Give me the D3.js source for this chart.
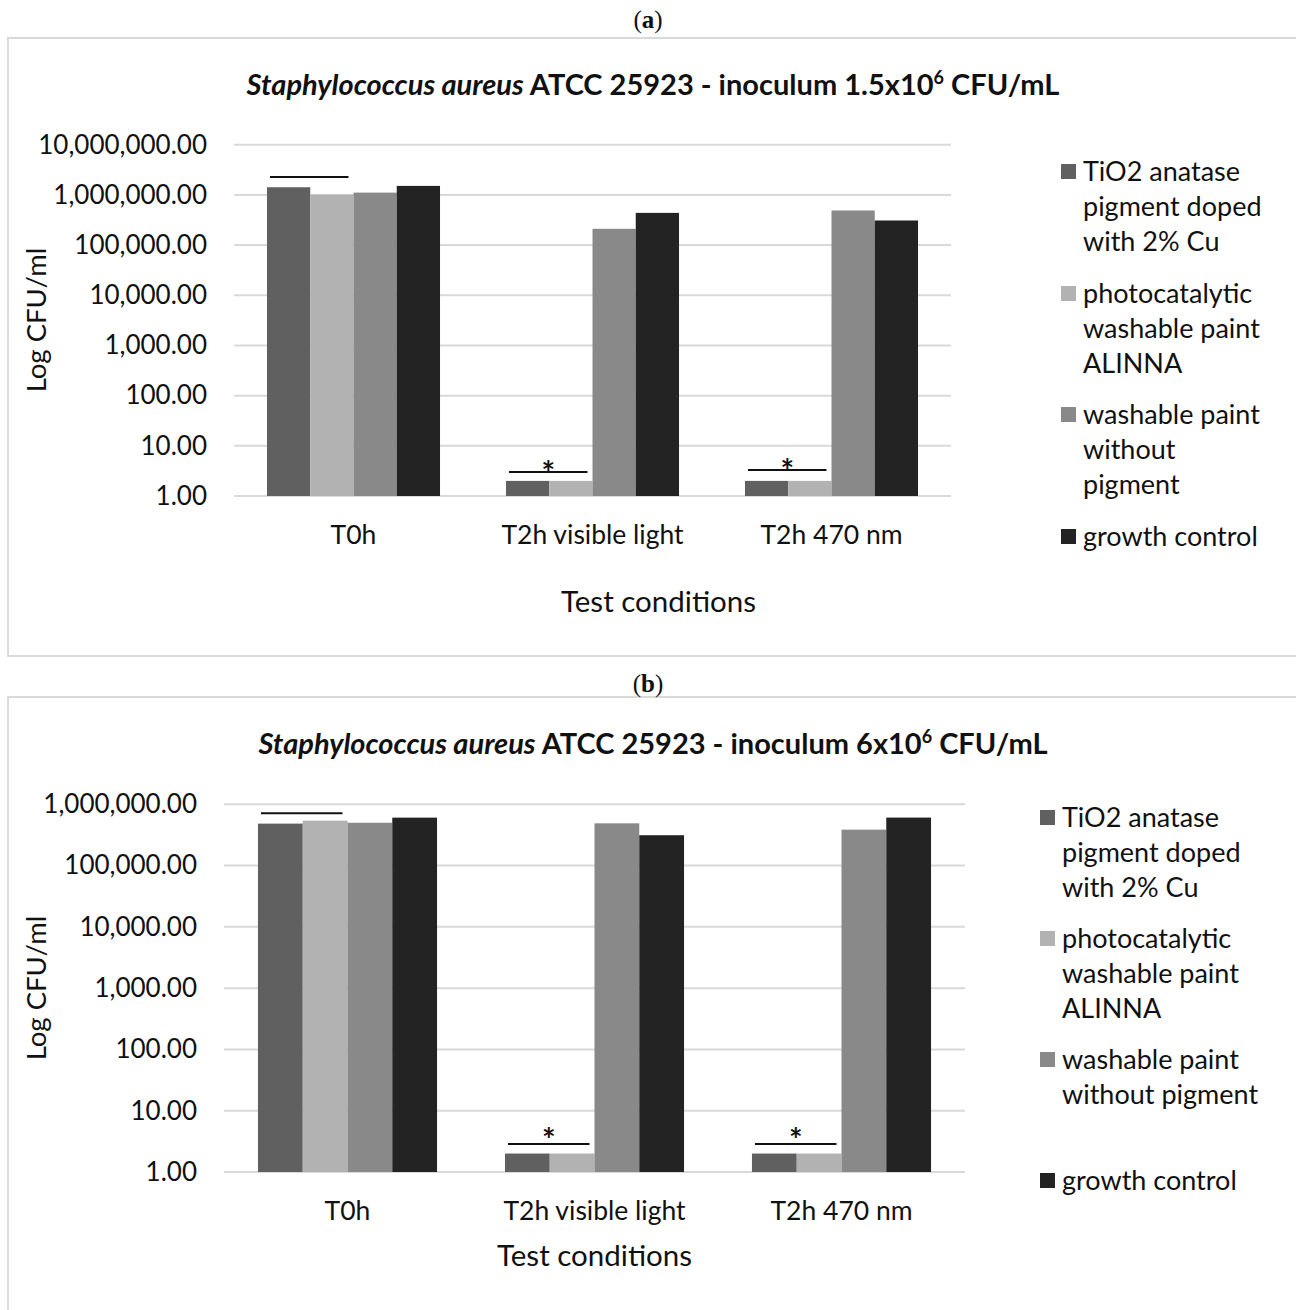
<!DOCTYPE html>
<html>
<head>
<meta charset="utf-8">
<script src="https://cdn.jsdelivr.net/npm/d3@7"></script>
<style>
  html, body { margin: 0; padding: 0; background: #fff; }
  svg { display: block; }
  text { font-family: Lato, "Open Sans", sans-serif; fill: #111; }
</style>
</head>
<body>
<svg id="chart" width="1296" height="1310"></svg>
<script>
// Test conditions (x categories), shared by both panels
const categories = ["T0h", "T2h visible light", "T2h 470 nm"];
const seriesNames = [
  "TiO2 anatase pigment doped with 2% Cu",
  "photocatalytic washable paint ALINNA",
  "washable paint without pigment",
  "growth control"
];
const seriesColors = ["#606060", "#b2b2b2", "#898989", "#232323"];

// Panel (a): inoculum 1.5x10^6 CFU/mL
const a_tio2Cu    = [1420000, 2, 2];
const a_alinna    = [1010000, 2, 2];
const a_washable  = [1110000, 211000, 489000];
const a_growth    = [1510000, 438000, 309000];
const a_yTicks    = [1, 10, 100, 1000, 10000, 100000, 1000000, 10000000];
const a_sigBars   = [ { cat: "T0h", value: 2280000, star: false },
                      { cat: "T2h visible light", value: 3.0, star: true },
                      { cat: "T2h 470 nm", value: 3.3, star: true } ];
const a_legendLines = [
  ["TiO2 anatase", "pigment doped", "with 2% Cu"],
  ["photocatalytic", "washable paint", "ALINNA"],
  ["washable paint", "without", "pigment"],
  ["growth control"]
];

// Panel (b): inoculum 6x10^6 CFU/mL
const b_tio2Cu    = [484000, 2, 2];
const b_alinna    = [541000, 2, 2];
const b_washable  = [500000, 489000, 386000];
const b_growth    = [606000, 313000, 607000];
const b_yTicks    = [1, 10, 100, 1000, 10000, 100000, 1000000];
const b_sigBars   = [ { cat: "T0h", value: 713000, star: false },
                      { cat: "T2h visible light", value: 2.86, star: true },
                      { cat: "T2h 470 nm", value: 2.86, star: true } ];
const b_legendLines = [
  ["TiO2 anatase", "pigment doped", "with 2% Cu"],
  ["photocatalytic", "washable paint", "ALINNA"],
  ["washable paint", "without pigment"],
  ["growth control"]
];

const svg = d3.select("#chart");
const fmt = d3.format(",.2f");

function drawPanel(p) {
  const g = svg.append("g");

  // frame around the chart area
  g.append("rect")
    .attr("x", p.frame[0]).attr("y", p.frame[1])
    .attr("width", p.frame[2]).attr("height", p.frame[3])
    .attr("fill", "none").attr("stroke", "#d9d9d9").attr("stroke-width", 2);

  // panel letter above the frame
  const letter = g.append("text")
    .attr("x", 648).attr("y", p.letterY)
    .attr("text-anchor", "middle")
    .style("font-family", "'Liberation Serif', serif")
    .style("font-size", "25px");
  letter.append("tspan").text("(");
  letter.append("tspan").style("font-weight", "bold").text(p.letter);
  letter.append("tspan").text(")");

  // chart title
  const title = g.append("text")
    .attr("x", p.titleX).attr("y", p.titleY)
    .attr("text-anchor", "middle")
    .style("font-size", "29px").style("font-weight", "bold");
  title.append("tspan").style("font-style", "italic").text("Staphylococcus aureus");
  title.append("tspan").text(" ATCC 25923 - inoculum " + p.inoculum + "x10");
  title.append("tspan").attr("dy", -11).style("font-size", "18px").text("6");
  title.append("tspan").attr("dy", 11).text(" CFU/mL");

  const x = d3.scaleBand().domain(categories).range(p.xRange)
    .paddingInner(p.pad).paddingOuter(p.pad / 2);
  const xs = d3.scaleBand().domain(d3.range(seriesNames.length)).range([0, x.bandwidth()]);
  const y = d3.scaleLog().domain([p.yTicks[0], p.yTicks[p.yTicks.length - 1]]).range(p.yRange);

  // gridlines
  g.append("g").selectAll("line").data(p.yTicks).join("line")
    .attr("x1", p.xRange[0]).attr("x2", p.xRange[1])
    .attr("y1", d => y(d)).attr("y2", d => y(d))
    .attr("stroke", "#d9d9d9").attr("stroke-width", 2);

  // y axis labels
  const yAxis = g.append("g")
    .attr("transform", `translate(${p.tickRight},0)`)
    .call(d3.axisLeft(y).tickValues(p.yTicks).tickFormat(fmt).tickSize(0).tickPadding(0));
  yAxis.select(".domain").remove();
  yAxis.selectAll("text")
    .style("font-family", "Lato, sans-serif").style("font-size", "26px").attr("fill", "#111");

  // bars
  const series = p.values.map((vals, si) => vals.map((v, ci) => ({ si, cat: categories[ci], v })));
  g.append("g").selectAll("g").data(series).join("g")
    .attr("fill", (d, i) => seriesColors[i])
    .selectAll("rect").data(d => d).join("rect")
    .attr("x", d => x(d.cat) + xs(d.si))
    .attr("width", xs.bandwidth())
    .attr("y", d => y(d.v))
    .attr("height", d => y(p.yTicks[0]) - y(d.v));

  // significance bars over the first two series
  p.sig.forEach(s => {
    const x1 = x(s.cat) + xs(0) + 3;
    const x2 = x(s.cat) + xs(1) + xs.bandwidth() - 5;
    g.append("line")
      .attr("x1", x1).attr("x2", x2).attr("y1", y(s.value)).attr("y2", y(s.value))
      .attr("stroke", "#111").attr("stroke-width", 2);
    if (s.star) {
      g.append("text")
        .attr("x", (x1 + x2) / 2).attr("y", y(s.value) + p.starDy)
        .attr("text-anchor", "middle")
        .style("font-size", "32px").style("font-weight", "bold")
        .text("*");
    }
  });

  // category labels
  g.append("g").selectAll("text").data(categories).join("text")
    .attr("x", d => x(d) + x.bandwidth() / 2)
    .attr("y", p.catY)
    .attr("text-anchor", "middle")
    .style("font-size", "26.5px")
    .text(d => d);

  // axis titles
  g.append("text")
    .attr("x", (p.xRange[0] + p.xRange[1]) / 2 + p.xTitleDx).attr("y", p.xTitleY)
    .attr("text-anchor", "middle").style("font-size", "29.5px")
    .text("Test conditions");
  g.append("text")
    .attr("transform", `translate(${p.yTitleX},${p.yTitleY}) rotate(-90)`)
    .attr("text-anchor", "middle").style("font-size", "27.5px")
    .text("Log CFU/ml");

  // legend
  const lg = g.append("g");
  p.legendLines.forEach((lines, i) => {
    const top = p.legendY[i];
    lg.append("rect")
      .attr("x", p.legendX).attr("y", top - 8)
      .attr("width", 15).attr("height", 15)
      .attr("fill", seriesColors[i]);
    const t = lg.append("text").attr("x", p.legendX + 22).attr("y", top)
      .style("font-size", "27px");
    lines.forEach((ln, k) => {
      t.append("tspan").attr("x", p.legendX + 22).attr("dy", k === 0 ? "0.35em" : 35).text(ln);
    });
  });
}

drawPanel({
  letter: "a", letterY: 28, frame: [8, 38, 1300, 618],
  inoculum: "1.5", titleX: 653, titleY: 95,
  values: [a_tio2Cu, a_alinna, a_washable, a_growth],
  yTicks: a_yTicks, sig: a_sigBars,
  xRange: [234, 951], yRange: [496, 144.7], pad: 0.276,
  tickRight: 207, catY: 544, xTitleDx: 66, xTitleY: 612,
  yTitleX: 46, yTitleY: 320, starDy: 13,
  legendLines: a_legendLines, legendX: 1061, legendY: [172, 294, 415, 537]
});

drawPanel({
  letter: "b", letterY: 692, frame: [8, 697, 1300, 700],
  inoculum: "6", titleX: 653, titleY: 754,
  values: [b_tio2Cu, b_alinna, b_washable, b_growth],
  yTicks: b_yTicks, sig: b_sigBars,
  xRange: [224, 965], yRange: [1172, 804.3], pad: 0.275,
  tickRight: 197, catY: 1220, xTitleDx: 0, xTitleY: 1266,
  yTitleX: 46, yTitleY: 988, starDy: 8,
  legendLines: b_legendLines, legendX: 1040, legendY: [818, 939, 1060, 1181]
});
</script>
</body>
</html>
